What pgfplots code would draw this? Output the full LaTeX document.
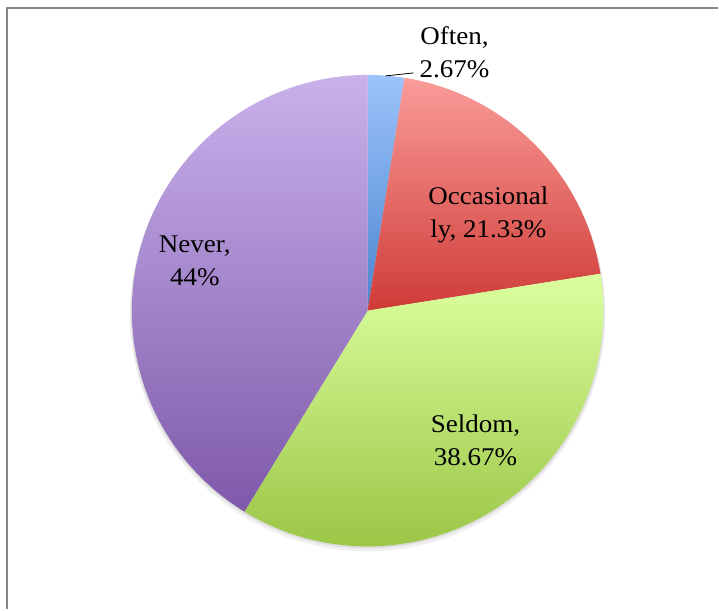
\documentclass[border=0pt]{standalone}
\usepackage{fontspec}
\setmainfont{Liberation Serif}[FakeStretch=1.06]
\usepackage{pgfplots}
\usepackage{pgfplotstable}
\pgfplotsset{compat=1.18}
\definecolor{oftenT}{HTML}{9DC3FB}
\definecolor{oftenB}{HTML}{4A84CE}
\definecolor{occT}{HTML}{FA9C99}
\definecolor{occB}{HTML}{CF3B37}
\definecolor{selT}{HTML}{DCFF9F}
\definecolor{selB}{HTML}{9BC646}
\definecolor{nevT}{HTML}{C9B1EB}
\definecolor{nevB}{HTML}{7E59AA}
\definecolor{framegray}{HTML}{868686}

\pgfplotstableread{
label value
Often 2.67
Occasionally 21.33
Seldom 38.67
Never 44
}\piedata

\begin{document}
\begin{tikzpicture}
\pgfplotstablegetelem{0}{value}\of\piedata \let\vA\pgfplotsretval
\pgfplotstablegetelem{1}{value}\of\piedata \let\vB\pgfplotsretval
\pgfplotstablegetelem{2}{value}\of\piedata \let\vC\pgfplotsretval
\pgfplotstablegetelem{3}{value}\of\piedata \let\vD\pgfplotsretval
\pgfmathsetmacro\tot{\vA+\vB+\vC+\vD}
\pgfmathsetmacro\aO{90}
\pgfmathsetmacro\aA{90-360*\vA/\tot}
\pgfmathsetmacro\aB{\aA-360*\vB/\tot}
\pgfmathsetmacro\aC{\aB-360*\vC/\tot}
\pgfmathsetmacro\aD{\aC-360*\vD/\tot}
\def\cx{368}\def\cy{299}\def\R{236}
\begin{axis}[scale only axis, width=719pt, height=610pt,
  xmin=0, xmax=719, ymin=0, ymax=610, hide axis, clip=false]
\path (axis cs:0,0) rectangle (axis cs:719,610);
% soft shadow
\addplot[draw=none, fill=black, fill opacity=0.06, domain=0:360, samples=180]
  ({\cx+(\R+2)*cos(x)},{\cy-4+(\R+1)*sin(x)}) -- cycle;
\addplot[draw=none, fill=black, fill opacity=0.08, domain=0:360, samples=180]
  ({\cx+(\R+1)*cos(x)},{\cy-2+\R*sin(x)}) -- cycle;
% slices
\addplot[draw=none, top color=oftenT, bottom color=oftenB, domain=\aA:\aO, samples=20]
  ({\cx+\R*cos(x)},{\cy+\R*sin(x)}) -- (axis cs:\cx,\cy) -- cycle;
\addplot[draw=none, top color=occT, bottom color=occB, domain=\aB:\aA, samples=80]
  ({\cx+\R*cos(x)},{\cy+\R*sin(x)}) -- (axis cs:\cx,\cy) -- cycle;
\addplot[draw=none, top color=selT, bottom color=selB, domain=\aC:\aB, samples=140]
  ({\cx+\R*cos(x)},{\cy+\R*sin(x)}) -- (axis cs:\cx,\cy) -- cycle;
\addplot[draw=none, top color=nevT, bottom color=nevB, domain=\aD:\aC, samples=160]
  ({\cx+\R*cos(x)},{\cy+\R*sin(x)}) -- (axis cs:\cx,\cy) -- cycle;
% frame
\draw[framegray, line width=1.6pt] (axis cs:7,0) -- (axis cs:7,602) -- (axis cs:719,602);
% leader line
\draw[black, line width=0.8pt] (axis cs:386,534) -- (axis cs:414,537);
% labels
\begin{scope}[every node/.style={align=center, font=\fontsize{25.5}{33}\selectfont, inner sep=0pt}]
\node at (axis cs:455,558) {Often,\\2.67\%};
\node at (axis cs:489,395) {Occasional\\ly, 21.33\%};
\node at (axis cs:195,349) {Never,\\44\%};
\node at (axis cs:476,169) {Seldom,\\38.67\%};
\end{scope}
\end{axis}
\end{tikzpicture}
\end{document}
